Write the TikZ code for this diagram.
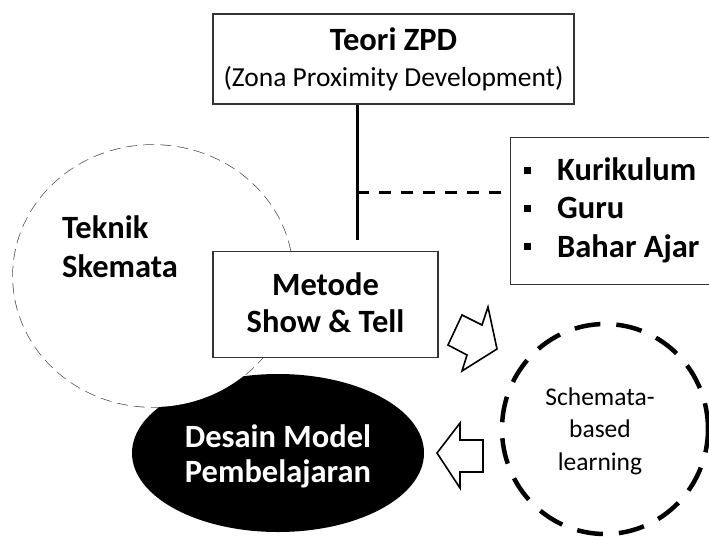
\documentclass[tikz,border=0pt]{standalone}
\usepackage{fontspec}
\setmainfont{Carlito}
\usetikzlibrary{shapes.geometric,calc}
\tikzset{
  boxnode/.style={draw=black!80, line width=1.2pt, fill=white, rectangle, inner sep=0pt},
  bullettxt/.style={font=\bfseries\fontsize{32.5}{38}\selectfont, anchor=base west, inner sep=0pt},
  bulletsq/.style={fill=black, minimum size=7pt, inner sep=0pt, rectangle},
  teknikline/.style={draw=black!70, line width=1.4pt, dash pattern=on 11pt off 6pt},
  blockarrow/.style={draw=black, line width=1.6pt, fill=white, line join=miter},
}
\begin{document}
\begin{tikzpicture}[x=1pt,y=-1pt]
\useasboundingbox (0,0) rectangle (709,536);
% Teknik Skemata dashed outline (drawn first, hidden under the blob)
\draw[teknikline] (153,276) ellipse [x radius=140, y radius=131];
% black blob
\node[ellipse, fill=black, minimum width=292pt, minimum height=158pt, inner sep=0pt] (blob) at (278,453) {};
\node[font=\bfseries\fontsize{32.5}{35}\selectfont, text=white, align=center, anchor=base] (blobtxt) at (278,482) {Desain Model\\Pembelajaran};
% white interior of Teknik circle
\node[ellipse, fill=white, minimum width=280pt, minimum height=262pt, inner sep=0pt] (tek) at (153,276) {};
\node[font=\bfseries\fontsize{32.5}{39}\selectfont, align=left, anchor=base west, inner sep=0pt] (tektxt) at (62,277) {Teknik\\Skemata};
% Metode box
\node[boxnode, minimum width=225pt, minimum height=106pt] (metode) at (325.5,304.5) {};
\node[font=\bfseries\fontsize{32.5}{37}\selectfont, align=center, anchor=base] (metodetxt) at (325.5,332) {Metode\\Show \& Tell};
% ZPD box
\node[boxnode, minimum width=361pt, minimum height=90pt] (zpd) at (393.5,59) {};
\node[font=\bfseries\fontsize{32.5}{36}\selectfont, anchor=base] (zpdt1) at (393.5,50) {Teori ZPD};
\node[font=\fontsize{27.5}{30}\selectfont, anchor=base] (zpdt2) at (393.5,86) {(Zona Proximity Development)};
% connectors
\coordinate (j) at (357,192);
\coordinate (vtop) at (zpd.south -| j);
\coordinate (vbot) at ($(metode.north -| j)+(0,-11)$);
\draw[line width=3pt] (vtop) -- (vbot);
% Kurikulum box
\node[boxnode, minimum width=215pt, minimum height=147pt, anchor=north west] (kur) at (510,137) {};
\draw[line width=3pt, dash pattern=on 12pt off 10pt] (j) -- ($(j -| kur.west)+(-8,0)$);
\node[bulletsq] (b1) at (527,170) {};
\node[bulletsq] (b2) at (527,208) {};
\node[bulletsq] (b3) at (527,246) {};
\node[bullettxt] (k1) at (557,180) {Kurikulum};
\node[bullettxt] (k2) at (557,218) {Guru};
\node[bullettxt] (k3) at (557,257) {Bahar Ajar};
% Schemata-based learning circle
\node[ellipse, draw=black, line width=4.5pt, dash pattern=on 26pt off 16pt, minimum width=206pt, minimum height=210pt, inner sep=0pt] (sbl) at (605,429) {};
\node[font=\fontsize{25.5}{32.5}\selectfont, align=center, anchor=base] (sbltxt) at (600,470) {Schemata-\\based\\learning};
% block arrows
\draw[blockarrow] (462,315) -- (482,325) -- (488,307) -- (497,349) -- (462,371) -- (467,355) -- (448,345) -- cycle;
\draw[blockarrow] (437,453) -- (460,423) -- (460,440) -- (483,440) -- (483,472) -- (460,472) -- (460,488) -- cycle;
\end{tikzpicture}
\end{document}
